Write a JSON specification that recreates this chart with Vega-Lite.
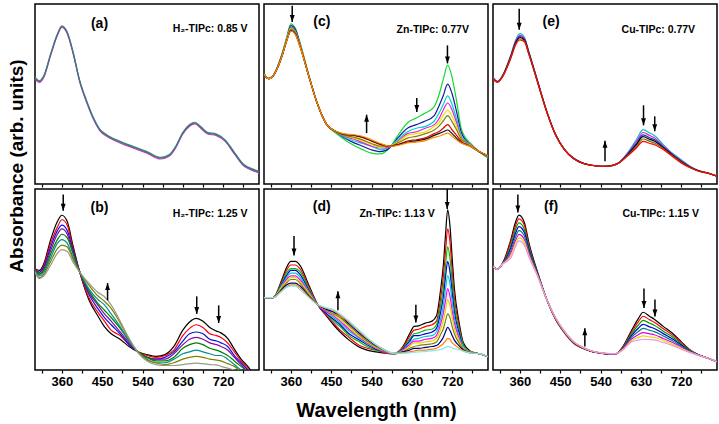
{
"$schema":"https://vega.github.io/schema/vega-lite/v6.json",
"padding":{"left":6,"top":3,"right":2,"bottom":1},
"background":"#ffffff",
"columns":3,
"bounds":"flush",
"spacing":{"row":5,"column":5},
"resolve":{"scale":{"color":"independent"}},
"config":{
"font":"Liberation Sans",
"view":{"stroke":"#000000","strokeWidth":1.5},
"axis":{"domain":false,"grid":false,"tickColor":"#000000","tickSize":3,"tickWidth":1.2,"labelColor":"#000000","labelFont":"Liberation Sans","labelFontSize":13,"labelFontWeight":"bold","labelPadding":2,"titleColor":"#000000","titleFont":"Liberation Sans","titleFontSize":20,"titleFontWeight":"bold"},
"text":{"font":"Liberation Sans","fontWeight":"bold","color":"#000000"},
"line":{"strokeWidth":1.2,"interpolate":"monotone"}
},
"datasets":{
"a":[
{"s":1,"w":300,"a":0.585},{"s":1,"w":310,"a":0.565},{"s":1,"w":320,"a":0.595},{"s":1,"w":335,"a":0.715},{"s":1,"w":350,"a":0.825},{"s":1,"w":360,"a":0.87},{"s":1,"w":372,"a":0.835},{"s":1,"w":385,"a":0.725},{"s":1,"w":400,"a":0.565},{"s":1,"w":415,"a":0.455},{"s":1,"w":430,"a":0.362},{"s":1,"w":445,"a":0.295},{"s":1,"w":460,"a":0.265},{"s":1,"w":490,"a":0.228},{"s":1,"w":520,"a":0.199},{"s":1,"w":550,"a":0.171},{"s":1,"w":580,"a":0.139},{"s":1,"w":600,"a":0.155},{"s":1,"w":615,"a":0.205},{"s":1,"w":630,"a":0.278},{"s":1,"w":645,"a":0.321},{"s":1,"w":657,"a":0.334},{"s":1,"w":670,"a":0.31},{"s":1,"w":685,"a":0.278},{"s":1,"w":705,"a":0.269},{"s":1,"w":725,"a":0.235},{"s":1,"w":745,"a":0.167},{"s":1,"w":765,"a":0.102},{"s":1,"w":785,"a":0.075},{"s":1,"w":800,"a":0.062},
{"s":2,"w":300,"a":0.594},{"s":2,"w":310,"a":0.574},{"s":2,"w":320,"a":0.604},{"s":2,"w":335,"a":0.724},{"s":2,"w":350,"a":0.834},{"s":2,"w":360,"a":0.879},{"s":2,"w":372,"a":0.844},{"s":2,"w":385,"a":0.734},{"s":2,"w":400,"a":0.574},{"s":2,"w":415,"a":0.464},{"s":2,"w":430,"a":0.371},{"s":2,"w":445,"a":0.304},{"s":2,"w":460,"a":0.274},{"s":2,"w":490,"a":0.237},{"s":2,"w":520,"a":0.208},{"s":2,"w":550,"a":0.18},{"s":2,"w":580,"a":0.148},{"s":2,"w":600,"a":0.164},{"s":2,"w":615,"a":0.214},{"s":2,"w":630,"a":0.287},{"s":2,"w":645,"a":0.33},{"s":2,"w":657,"a":0.343},{"s":2,"w":670,"a":0.319},{"s":2,"w":685,"a":0.287},{"s":2,"w":705,"a":0.278},{"s":2,"w":725,"a":0.244},{"s":2,"w":745,"a":0.176},{"s":2,"w":765,"a":0.111},{"s":2,"w":785,"a":0.084},{"s":2,"w":800,"a":0.071},
{"s":3,"w":300,"a":0.59},{"s":3,"w":310,"a":0.57},{"s":3,"w":320,"a":0.6},{"s":3,"w":335,"a":0.72},{"s":3,"w":350,"a":0.83},{"s":3,"w":360,"a":0.875},{"s":3,"w":372,"a":0.84},{"s":3,"w":385,"a":0.73},{"s":3,"w":400,"a":0.57},{"s":3,"w":415,"a":0.46},{"s":3,"w":430,"a":0.367},{"s":3,"w":445,"a":0.3},{"s":3,"w":460,"a":0.27},{"s":3,"w":490,"a":0.233},{"s":3,"w":520,"a":0.204},{"s":3,"w":550,"a":0.176},{"s":3,"w":580,"a":0.144},{"s":3,"w":600,"a":0.16},{"s":3,"w":615,"a":0.21},{"s":3,"w":630,"a":0.283},{"s":3,"w":645,"a":0.326},{"s":3,"w":657,"a":0.339},{"s":3,"w":670,"a":0.315},{"s":3,"w":685,"a":0.283},{"s":3,"w":705,"a":0.274},{"s":3,"w":725,"a":0.24},{"s":3,"w":745,"a":0.172},{"s":3,"w":765,"a":0.107},{"s":3,"w":785,"a":0.08},{"s":3,"w":800,"a":0.067}
],
"b":[
{"s":1,"w":300,"a":0.56},{"s":1,"w":310,"a":0.55},{"s":1,"w":320,"a":0.59},{"s":1,"w":335,"a":0.72},{"s":1,"w":350,"a":0.82},{"s":1,"w":360,"a":0.855},{"s":1,"w":372,"a":0.82},{"s":1,"w":385,"a":0.685},{"s":1,"w":400,"a":0.54},{"s":1,"w":420,"a":0.39},{"s":1,"w":440,"a":0.3},{"s":1,"w":455,"a":0.24},{"s":1,"w":470,"a":0.2},{"s":1,"w":490,"a":0.17},{"s":1,"w":510,"a":0.13},{"s":1,"w":530,"a":0.1},{"s":1,"w":550,"a":0.085},{"s":1,"w":570,"a":0.075},{"s":1,"w":590,"a":0.085},{"s":1,"w":610,"a":0.13},{"s":1,"w":630,"a":0.22},{"s":1,"w":645,"a":0.265},{"s":1,"w":660,"a":0.285},{"s":1,"w":675,"a":0.27},{"s":1,"w":690,"a":0.235},{"s":1,"w":705,"a":0.215},{"s":1,"w":715,"a":0.205},{"s":1,"w":730,"a":0.175},{"s":1,"w":745,"a":0.115},{"s":1,"w":760,"a":0.06},{"s":1,"w":775,"a":0.02},{"s":1,"w":790,"a":-0.03},{"s":1,"w":800,"a":-0.05},
{"s":2,"w":300,"a":0.56},{"s":2,"w":310,"a":0.54},{"s":2,"w":320,"a":0.58},{"s":2,"w":335,"a":0.7},{"s":2,"w":350,"a":0.79},{"s":2,"w":360,"a":0.83},{"s":2,"w":372,"a":0.8},{"s":2,"w":385,"a":0.67},{"s":2,"w":400,"a":0.54},{"s":2,"w":420,"a":0.4},{"s":2,"w":440,"a":0.32},{"s":2,"w":455,"a":0.27},{"s":2,"w":470,"a":0.22},{"s":2,"w":490,"a":0.19},{"s":2,"w":510,"a":0.14},{"s":2,"w":530,"a":0.1},{"s":2,"w":550,"a":0.08},{"s":2,"w":570,"a":0.07},{"s":2,"w":590,"a":0.08},{"s":2,"w":610,"a":0.11},{"s":2,"w":630,"a":0.19},{"s":2,"w":645,"a":0.23},{"s":2,"w":660,"a":0.25},{"s":2,"w":675,"a":0.235},{"s":2,"w":690,"a":0.2},{"s":2,"w":705,"a":0.19},{"s":2,"w":715,"a":0.18},{"s":2,"w":730,"a":0.15},{"s":2,"w":745,"a":0.1},{"s":2,"w":760,"a":0.05},{"s":2,"w":775,"a":0.01},{"s":2,"w":790,"a":-0.03},{"s":2,"w":800,"a":-0.05},
{"s":3,"w":300,"a":0.55},{"s":3,"w":310,"a":0.54},{"s":3,"w":320,"a":0.57},{"s":3,"w":335,"a":0.68},{"s":3,"w":350,"a":0.77},{"s":3,"w":360,"a":0.8},{"s":3,"w":372,"a":0.77},{"s":3,"w":385,"a":0.66},{"s":3,"w":400,"a":0.54},{"s":3,"w":420,"a":0.42},{"s":3,"w":440,"a":0.34},{"s":3,"w":455,"a":0.29},{"s":3,"w":470,"a":0.25},{"s":3,"w":490,"a":0.2},{"s":3,"w":510,"a":0.14},{"s":3,"w":530,"a":0.1},{"s":3,"w":550,"a":0.07},{"s":3,"w":570,"a":0.06},{"s":3,"w":590,"a":0.07},{"s":3,"w":610,"a":0.1},{"s":3,"w":630,"a":0.16},{"s":3,"w":645,"a":0.2},{"s":3,"w":660,"a":0.21},{"s":3,"w":675,"a":0.2},{"s":3,"w":690,"a":0.17},{"s":3,"w":705,"a":0.16},{"s":3,"w":715,"a":0.15},{"s":3,"w":730,"a":0.13},{"s":3,"w":745,"a":0.08},{"s":3,"w":760,"a":0.04},{"s":3,"w":775,"a":0},{"s":3,"w":790,"a":-0.04},{"s":3,"w":800,"a":-0.05},
{"s":4,"w":300,"a":0.55},{"s":4,"w":310,"a":0.53},{"s":4,"w":320,"a":0.56},{"s":4,"w":335,"a":0.66},{"s":4,"w":350,"a":0.75},{"s":4,"w":360,"a":0.78},{"s":4,"w":372,"a":0.75},{"s":4,"w":385,"a":0.65},{"s":4,"w":400,"a":0.54},{"s":4,"w":420,"a":0.43},{"s":4,"w":440,"a":0.36},{"s":4,"w":455,"a":0.31},{"s":4,"w":470,"a":0.27},{"s":4,"w":490,"a":0.21},{"s":4,"w":510,"a":0.15},{"s":4,"w":530,"a":0.1},{"s":4,"w":550,"a":0.07},{"s":4,"w":570,"a":0.06},{"s":4,"w":590,"a":0.06},{"s":4,"w":610,"a":0.09},{"s":4,"w":630,"a":0.14},{"s":4,"w":645,"a":0.17},{"s":4,"w":660,"a":0.18},{"s":4,"w":675,"a":0.17},{"s":4,"w":690,"a":0.15},{"s":4,"w":705,"a":0.14},{"s":4,"w":715,"a":0.13},{"s":4,"w":730,"a":0.11},{"s":4,"w":745,"a":0.07},{"s":4,"w":760,"a":0.03},{"s":4,"w":775,"a":-0.01},{"s":4,"w":790,"a":-0.04},{"s":4,"w":800,"a":-0.05},
{"s":5,"w":300,"a":0.55},{"s":5,"w":310,"a":0.53},{"s":5,"w":320,"a":0.55},{"s":5,"w":335,"a":0.64},{"s":5,"w":350,"a":0.72},{"s":5,"w":360,"a":0.75},{"s":5,"w":372,"a":0.73},{"s":5,"w":385,"a":0.64},{"s":5,"w":400,"a":0.54},{"s":5,"w":420,"a":0.44},{"s":5,"w":440,"a":0.37},{"s":5,"w":455,"a":0.33},{"s":5,"w":470,"a":0.29},{"s":5,"w":490,"a":0.23},{"s":5,"w":510,"a":0.16},{"s":5,"w":530,"a":0.1},{"s":5,"w":550,"a":0.07},{"s":5,"w":570,"a":0.05},{"s":5,"w":590,"a":0.05},{"s":5,"w":610,"a":0.07},{"s":5,"w":630,"a":0.12},{"s":5,"w":645,"a":0.14},{"s":5,"w":660,"a":0.15},{"s":5,"w":675,"a":0.14},{"s":5,"w":690,"a":0.12},{"s":5,"w":705,"a":0.11},{"s":5,"w":715,"a":0.1},{"s":5,"w":730,"a":0.08},{"s":5,"w":745,"a":0.05},{"s":5,"w":760,"a":0.02},{"s":5,"w":775,"a":-0.01},{"s":5,"w":790,"a":-0.04},{"s":5,"w":800,"a":-0.05},
{"s":6,"w":300,"a":0.55},{"s":6,"w":310,"a":0.52},{"s":6,"w":320,"a":0.54},{"s":6,"w":335,"a":0.62},{"s":6,"w":350,"a":0.7},{"s":6,"w":360,"a":0.72},{"s":6,"w":372,"a":0.7},{"s":6,"w":385,"a":0.62},{"s":6,"w":400,"a":0.54},{"s":6,"w":420,"a":0.45},{"s":6,"w":440,"a":0.39},{"s":6,"w":455,"a":0.36},{"s":6,"w":470,"a":0.31},{"s":6,"w":490,"a":0.24},{"s":6,"w":510,"a":0.16},{"s":6,"w":530,"a":0.1},{"s":6,"w":550,"a":0.06},{"s":6,"w":570,"a":0.04},{"s":6,"w":590,"a":0.04},{"s":6,"w":610,"a":0.06},{"s":6,"w":630,"a":0.09},{"s":6,"w":645,"a":0.1},{"s":6,"w":660,"a":0.11},{"s":6,"w":675,"a":0.1},{"s":6,"w":690,"a":0.09},{"s":6,"w":705,"a":0.08},{"s":6,"w":715,"a":0.08},{"s":6,"w":730,"a":0.06},{"s":6,"w":745,"a":0.03},{"s":6,"w":760,"a":0},{"s":6,"w":775,"a":-0.02},{"s":6,"w":790,"a":-0.04},{"s":6,"w":800,"a":-0.05},
{"s":7,"w":300,"a":0.54},{"s":7,"w":310,"a":0.51},{"s":7,"w":320,"a":0.53},{"s":7,"w":335,"a":0.6},{"s":7,"w":350,"a":0.67},{"s":7,"w":360,"a":0.69},{"s":7,"w":372,"a":0.68},{"s":7,"w":385,"a":0.61},{"s":7,"w":400,"a":0.54},{"s":7,"w":420,"a":0.47},{"s":7,"w":440,"a":0.41},{"s":7,"w":455,"a":0.38},{"s":7,"w":470,"a":0.34},{"s":7,"w":490,"a":0.26},{"s":7,"w":510,"a":0.17},{"s":7,"w":530,"a":0.1},{"s":7,"w":550,"a":0.055},{"s":7,"w":570,"a":0.04},{"s":7,"w":590,"a":0.03},{"s":7,"w":610,"a":0.04},{"s":7,"w":630,"a":0.06},{"s":7,"w":645,"a":0.07},{"s":7,"w":660,"a":0.075},{"s":7,"w":675,"a":0.07},{"s":7,"w":690,"a":0.06},{"s":7,"w":705,"a":0.055},{"s":7,"w":715,"a":0.05},{"s":7,"w":730,"a":0.035},{"s":7,"w":745,"a":0.02},{"s":7,"w":760,"a":-0.01},{"s":7,"w":775,"a":-0.03},{"s":7,"w":790,"a":-0.05},{"s":7,"w":800,"a":-0.05},
{"s":8,"w":300,"a":0.54},{"s":8,"w":310,"a":0.505},{"s":8,"w":320,"a":0.52},{"s":8,"w":335,"a":0.58},{"s":8,"w":350,"a":0.645},{"s":8,"w":360,"a":0.665},{"s":8,"w":372,"a":0.655},{"s":8,"w":385,"a":0.595},{"s":8,"w":400,"a":0.54},{"s":8,"w":420,"a":0.48},{"s":8,"w":440,"a":0.43},{"s":8,"w":455,"a":0.405},{"s":8,"w":470,"a":0.36},{"s":8,"w":490,"a":0.27},{"s":8,"w":510,"a":0.175},{"s":8,"w":530,"a":0.095},{"s":8,"w":550,"a":0.05},{"s":8,"w":570,"a":0.03},{"s":8,"w":590,"a":0.025},{"s":8,"w":610,"a":0.025},{"s":8,"w":630,"a":0.03},{"s":8,"w":645,"a":0.035},{"s":8,"w":660,"a":0.038},{"s":8,"w":675,"a":0.035},{"s":8,"w":690,"a":0.03},{"s":8,"w":705,"a":0.028},{"s":8,"w":715,"a":0.02},{"s":8,"w":730,"a":0.01},{"s":8,"w":745,"a":0},{"s":8,"w":760,"a":-0.02},{"s":8,"w":775,"a":-0.04},{"s":8,"w":790,"a":-0.05},{"s":8,"w":800,"a":-0.05}
],
"c":[
{"s":1,"w":300,"a":0.61},{"s":1,"w":310,"a":0.585},{"s":1,"w":320,"a":0.6},{"s":1,"w":340,"a":0.72},{"s":1,"w":350,"a":0.81},{"s":1,"w":360,"a":0.89},{"s":1,"w":370,"a":0.865},{"s":1,"w":380,"a":0.79},{"s":1,"w":400,"a":0.605},{"s":1,"w":420,"a":0.44},{"s":1,"w":440,"a":0.33},{"s":1,"w":460,"a":0.283},{"s":1,"w":480,"a":0.246},{"s":1,"w":500,"a":0.215},{"s":1,"w":520,"a":0.191},{"s":1,"w":540,"a":0.172},{"s":1,"w":560,"a":0.167},{"s":1,"w":580,"a":0.2},{"s":1,"w":600,"a":0.274},{"s":1,"w":620,"a":0.339},{"s":1,"w":640,"a":0.367},{"s":1,"w":660,"a":0.394},{"s":1,"w":680,"a":0.43},{"s":1,"w":690,"a":0.49},{"s":1,"w":700,"a":0.58},{"s":1,"w":710,"a":0.66},{"s":1,"w":720,"a":0.59},{"s":1,"w":730,"a":0.459},{"s":1,"w":740,"a":0.31},{"s":1,"w":750,"a":0.256},{"s":1,"w":760,"a":0.228},{"s":1,"w":780,"a":0.181},{"s":1,"w":800,"a":0.144},
{"s":2,"w":300,"a":0.61},{"s":2,"w":310,"a":0.585},{"s":2,"w":320,"a":0.6},{"s":2,"w":340,"a":0.72},{"s":2,"w":350,"a":0.8},{"s":2,"w":360,"a":0.88},{"s":2,"w":370,"a":0.86},{"s":2,"w":380,"a":0.78},{"s":2,"w":400,"a":0.6},{"s":2,"w":420,"a":0.44},{"s":2,"w":440,"a":0.33},{"s":2,"w":460,"a":0.29},{"s":2,"w":480,"a":0.255},{"s":2,"w":500,"a":0.23},{"s":2,"w":520,"a":0.21},{"s":2,"w":540,"a":0.19},{"s":2,"w":560,"a":0.18},{"s":2,"w":580,"a":0.2},{"s":2,"w":600,"a":0.26},{"s":2,"w":620,"a":0.31},{"s":2,"w":640,"a":0.33},{"s":2,"w":660,"a":0.35},{"s":2,"w":680,"a":0.38},{"s":2,"w":690,"a":0.43},{"s":2,"w":700,"a":0.49},{"s":2,"w":710,"a":0.555},{"s":2,"w":720,"a":0.5},{"s":2,"w":730,"a":0.4},{"s":2,"w":740,"a":0.29},{"s":2,"w":750,"a":0.245},{"s":2,"w":760,"a":0.22},{"s":2,"w":780,"a":0.18},{"s":2,"w":800,"a":0.15},
{"s":3,"w":300,"a":0.61},{"s":3,"w":310,"a":0.585},{"s":3,"w":320,"a":0.6},{"s":3,"w":340,"a":0.715},{"s":3,"w":350,"a":0.8},{"s":3,"w":360,"a":0.87},{"s":3,"w":370,"a":0.85},{"s":3,"w":380,"a":0.78},{"s":3,"w":400,"a":0.6},{"s":3,"w":420,"a":0.44},{"s":3,"w":440,"a":0.33},{"s":3,"w":460,"a":0.29},{"s":3,"w":480,"a":0.26},{"s":3,"w":500,"a":0.24},{"s":3,"w":520,"a":0.225},{"s":3,"w":540,"a":0.21},{"s":3,"w":560,"a":0.19},{"s":3,"w":580,"a":0.205},{"s":3,"w":600,"a":0.25},{"s":3,"w":620,"a":0.29},{"s":3,"w":640,"a":0.31},{"s":3,"w":660,"a":0.32},{"s":3,"w":680,"a":0.35},{"s":3,"w":690,"a":0.39},{"s":3,"w":700,"a":0.44},{"s":3,"w":710,"a":0.49},{"s":3,"w":720,"a":0.44},{"s":3,"w":730,"a":0.36},{"s":3,"w":740,"a":0.27},{"s":3,"w":750,"a":0.24},{"s":3,"w":760,"a":0.22},{"s":3,"w":780,"a":0.18},{"s":3,"w":800,"a":0.15},
{"s":4,"w":300,"a":0.61},{"s":4,"w":310,"a":0.585},{"s":4,"w":320,"a":0.6},{"s":4,"w":340,"a":0.71},{"s":4,"w":350,"a":0.8},{"s":4,"w":360,"a":0.87},{"s":4,"w":370,"a":0.845},{"s":4,"w":380,"a":0.78},{"s":4,"w":400,"a":0.6},{"s":4,"w":420,"a":0.44},{"s":4,"w":440,"a":0.33},{"s":4,"w":460,"a":0.29},{"s":4,"w":480,"a":0.265},{"s":4,"w":500,"a":0.25},{"s":4,"w":520,"a":0.23},{"s":4,"w":540,"a":0.21},{"s":4,"w":560,"a":0.2},{"s":4,"w":580,"a":0.205},{"s":4,"w":600,"a":0.24},{"s":4,"w":620,"a":0.28},{"s":4,"w":640,"a":0.29},{"s":4,"w":660,"a":0.31},{"s":4,"w":680,"a":0.33},{"s":4,"w":690,"a":0.36},{"s":4,"w":700,"a":0.41},{"s":4,"w":710,"a":0.45},{"s":4,"w":720,"a":0.41},{"s":4,"w":730,"a":0.34},{"s":4,"w":740,"a":0.26},{"s":4,"w":750,"a":0.235},{"s":4,"w":760,"a":0.22},{"s":4,"w":780,"a":0.18},{"s":4,"w":800,"a":0.15},
{"s":5,"w":300,"a":0.61},{"s":5,"w":310,"a":0.585},{"s":5,"w":320,"a":0.6},{"s":5,"w":340,"a":0.71},{"s":5,"w":350,"a":0.8},{"s":5,"w":360,"a":0.865},{"s":5,"w":370,"a":0.84},{"s":5,"w":380,"a":0.775},{"s":5,"w":400,"a":0.6},{"s":5,"w":420,"a":0.44},{"s":5,"w":440,"a":0.33},{"s":5,"w":460,"a":0.29},{"s":5,"w":480,"a":0.27},{"s":5,"w":500,"a":0.255},{"s":5,"w":520,"a":0.24},{"s":5,"w":540,"a":0.22},{"s":5,"w":560,"a":0.205},{"s":5,"w":580,"a":0.21},{"s":5,"w":600,"a":0.235},{"s":5,"w":620,"a":0.27},{"s":5,"w":640,"a":0.28},{"s":5,"w":660,"a":0.29},{"s":5,"w":680,"a":0.32},{"s":5,"w":690,"a":0.34},{"s":5,"w":700,"a":0.38},{"s":5,"w":710,"a":0.41},{"s":5,"w":720,"a":0.375},{"s":5,"w":730,"a":0.32},{"s":5,"w":740,"a":0.255},{"s":5,"w":750,"a":0.23},{"s":5,"w":760,"a":0.215},{"s":5,"w":780,"a":0.18},{"s":5,"w":800,"a":0.155},
{"s":6,"w":300,"a":0.61},{"s":6,"w":310,"a":0.585},{"s":6,"w":320,"a":0.6},{"s":6,"w":340,"a":0.71},{"s":6,"w":350,"a":0.795},{"s":6,"w":360,"a":0.86},{"s":6,"w":370,"a":0.84},{"s":6,"w":380,"a":0.77},{"s":6,"w":400,"a":0.6},{"s":6,"w":420,"a":0.44},{"s":6,"w":440,"a":0.33},{"s":6,"w":460,"a":0.29},{"s":6,"w":480,"a":0.27},{"s":6,"w":500,"a":0.26},{"s":6,"w":520,"a":0.245},{"s":6,"w":540,"a":0.225},{"s":6,"w":560,"a":0.21},{"s":6,"w":580,"a":0.21},{"s":6,"w":600,"a":0.23},{"s":6,"w":620,"a":0.255},{"s":6,"w":640,"a":0.265},{"s":6,"w":660,"a":0.28},{"s":6,"w":680,"a":0.3},{"s":6,"w":690,"a":0.32},{"s":6,"w":700,"a":0.35},{"s":6,"w":710,"a":0.38},{"s":6,"w":720,"a":0.345},{"s":6,"w":730,"a":0.3},{"s":6,"w":740,"a":0.25},{"s":6,"w":750,"a":0.23},{"s":6,"w":760,"a":0.21},{"s":6,"w":780,"a":0.18},{"s":6,"w":800,"a":0.155},
{"s":7,"w":300,"a":0.61},{"s":7,"w":310,"a":0.585},{"s":7,"w":320,"a":0.6},{"s":7,"w":340,"a":0.71},{"s":7,"w":350,"a":0.79},{"s":7,"w":360,"a":0.85},{"s":7,"w":370,"a":0.835},{"s":7,"w":380,"a":0.77},{"s":7,"w":400,"a":0.6},{"s":7,"w":420,"a":0.44},{"s":7,"w":440,"a":0.33},{"s":7,"w":460,"a":0.292},{"s":7,"w":480,"a":0.275},{"s":7,"w":500,"a":0.27},{"s":7,"w":520,"a":0.258},{"s":7,"w":540,"a":0.238},{"s":7,"w":560,"a":0.219},{"s":7,"w":580,"a":0.209},{"s":7,"w":600,"a":0.221},{"s":7,"w":620,"a":0.239},{"s":7,"w":640,"a":0.246},{"s":7,"w":660,"a":0.256},{"s":7,"w":680,"a":0.28},{"s":7,"w":690,"a":0.29},{"s":7,"w":700,"a":0.31},{"s":7,"w":710,"a":0.33},{"s":7,"w":720,"a":0.3},{"s":7,"w":730,"a":0.27},{"s":7,"w":740,"a":0.24},{"s":7,"w":750,"a":0.22},{"s":7,"w":760,"a":0.211},{"s":7,"w":780,"a":0.18},{"s":7,"w":800,"a":0.158},
{"s":8,"w":300,"a":0.61},{"s":8,"w":310,"a":0.585},{"s":8,"w":320,"a":0.6},{"s":8,"w":340,"a":0.71},{"s":8,"w":350,"a":0.79},{"s":8,"w":360,"a":0.852},{"s":8,"w":370,"a":0.832},{"s":8,"w":380,"a":0.766},{"s":8,"w":400,"a":0.6},{"s":8,"w":420,"a":0.44},{"s":8,"w":440,"a":0.33},{"s":8,"w":460,"a":0.293},{"s":8,"w":480,"a":0.276},{"s":8,"w":500,"a":0.271},{"s":8,"w":520,"a":0.261},{"s":8,"w":540,"a":0.241},{"s":8,"w":560,"a":0.222},{"s":8,"w":580,"a":0.21},{"s":8,"w":600,"a":0.218},{"s":8,"w":620,"a":0.233},{"s":8,"w":640,"a":0.24},{"s":8,"w":660,"a":0.249},{"s":8,"w":680,"a":0.27},{"s":8,"w":690,"a":0.28},{"s":8,"w":700,"a":0.29},{"s":8,"w":710,"a":0.3},{"s":8,"w":720,"a":0.28},{"s":8,"w":730,"a":0.255},{"s":8,"w":740,"a":0.23},{"s":8,"w":750,"a":0.22},{"s":8,"w":760,"a":0.21},{"s":8,"w":780,"a":0.18},{"s":8,"w":800,"a":0.158},
{"s":9,"w":300,"a":0.61},{"s":9,"w":310,"a":0.585},{"s":9,"w":320,"a":0.6},{"s":9,"w":340,"a":0.71},{"s":9,"w":350,"a":0.79},{"s":9,"w":360,"a":0.85},{"s":9,"w":370,"a":0.83},{"s":9,"w":380,"a":0.765},{"s":9,"w":400,"a":0.6},{"s":9,"w":420,"a":0.44},{"s":9,"w":440,"a":0.33},{"s":9,"w":460,"a":0.293},{"s":9,"w":480,"a":0.278},{"s":9,"w":500,"a":0.274},{"s":9,"w":520,"a":0.265},{"s":9,"w":540,"a":0.245},{"s":9,"w":560,"a":0.225},{"s":9,"w":580,"a":0.21},{"s":9,"w":600,"a":0.215},{"s":9,"w":620,"a":0.228},{"s":9,"w":640,"a":0.233},{"s":9,"w":660,"a":0.241},{"s":9,"w":680,"a":0.259},{"s":9,"w":690,"a":0.265},{"s":9,"w":700,"a":0.274},{"s":9,"w":710,"a":0.283},{"s":9,"w":720,"a":0.265},{"s":9,"w":730,"a":0.245},{"s":9,"w":740,"a":0.228},{"s":9,"w":750,"a":0.218},{"s":9,"w":760,"a":0.209},{"s":9,"w":780,"a":0.181},{"s":9,"w":800,"a":0.159}
],
"d":[
{"s":1,"w":300,"a":0.4},{"s":1,"w":320,"a":0.4},{"s":1,"w":340,"a":0.5},{"s":1,"w":350,"a":0.565},{"s":1,"w":360,"a":0.6},{"s":1,"w":370,"a":0.6},{"s":1,"w":380,"a":0.58},{"s":1,"w":400,"a":0.47},{"s":1,"w":420,"a":0.361},{"s":1,"w":440,"a":0.296},{"s":1,"w":455,"a":0.25},{"s":1,"w":470,"a":0.21},{"s":1,"w":490,"a":0.165},{"s":1,"w":510,"a":0.13},{"s":1,"w":530,"a":0.11},{"s":1,"w":550,"a":0.1},{"s":1,"w":570,"a":0.093},{"s":1,"w":590,"a":0.09},{"s":1,"w":610,"a":0.13},{"s":1,"w":625,"a":0.2},{"s":1,"w":635,"a":0.241},{"s":1,"w":645,"a":0.244},{"s":1,"w":660,"a":0.259},{"s":1,"w":675,"a":0.27},{"s":1,"w":685,"a":0.3},{"s":1,"w":695,"a":0.46},{"s":1,"w":700,"a":0.57},{"s":1,"w":705,"a":0.74},{"s":1,"w":710,"a":0.885},{"s":1,"w":715,"a":0.8},{"s":1,"w":720,"a":0.62},{"s":1,"w":725,"a":0.45},{"s":1,"w":735,"a":0.27},{"s":1,"w":745,"a":0.15},{"s":1,"w":760,"a":0.105},{"s":1,"w":780,"a":0.09},{"s":1,"w":800,"a":0.074},
{"s":2,"w":300,"a":0.4},{"s":2,"w":320,"a":0.4},{"s":2,"w":340,"a":0.49},{"s":2,"w":350,"a":0.55},{"s":2,"w":360,"a":0.58},{"s":2,"w":370,"a":0.58},{"s":2,"w":380,"a":0.56},{"s":2,"w":400,"a":0.46},{"s":2,"w":420,"a":0.36},{"s":2,"w":440,"a":0.3},{"s":2,"w":455,"a":0.26},{"s":2,"w":470,"a":0.22},{"s":2,"w":490,"a":0.18},{"s":2,"w":510,"a":0.14},{"s":2,"w":530,"a":0.12},{"s":2,"w":550,"a":0.11},{"s":2,"w":570,"a":0.095},{"s":2,"w":590,"a":0.09},{"s":2,"w":610,"a":0.125},{"s":2,"w":625,"a":0.185},{"s":2,"w":635,"a":0.22},{"s":2,"w":645,"a":0.225},{"s":2,"w":660,"a":0.24},{"s":2,"w":675,"a":0.25},{"s":2,"w":685,"a":0.27},{"s":2,"w":695,"a":0.41},{"s":2,"w":700,"a":0.51},{"s":2,"w":705,"a":0.65},{"s":2,"w":710,"a":0.78},{"s":2,"w":715,"a":0.71},{"s":2,"w":720,"a":0.55},{"s":2,"w":725,"a":0.4},{"s":2,"w":735,"a":0.25},{"s":2,"w":745,"a":0.14},{"s":2,"w":760,"a":0.1},{"s":2,"w":780,"a":0.09},{"s":2,"w":800,"a":0.074},
{"s":3,"w":300,"a":0.4},{"s":3,"w":320,"a":0.4},{"s":3,"w":340,"a":0.48},{"s":3,"w":350,"a":0.535},{"s":3,"w":360,"a":0.56},{"s":3,"w":370,"a":0.56},{"s":3,"w":380,"a":0.545},{"s":3,"w":400,"a":0.45},{"s":3,"w":420,"a":0.36},{"s":3,"w":440,"a":0.31},{"s":3,"w":455,"a":0.27},{"s":3,"w":470,"a":0.24},{"s":3,"w":490,"a":0.19},{"s":3,"w":510,"a":0.16},{"s":3,"w":530,"a":0.13},{"s":3,"w":550,"a":0.11},{"s":3,"w":570,"a":0.1},{"s":3,"w":590,"a":0.09},{"s":3,"w":610,"a":0.12},{"s":3,"w":625,"a":0.17},{"s":3,"w":635,"a":0.2},{"s":3,"w":645,"a":0.205},{"s":3,"w":660,"a":0.22},{"s":3,"w":675,"a":0.225},{"s":3,"w":685,"a":0.25},{"s":3,"w":695,"a":0.37},{"s":3,"w":700,"a":0.45},{"s":3,"w":705,"a":0.57},{"s":3,"w":710,"a":0.68},{"s":3,"w":715,"a":0.62},{"s":3,"w":720,"a":0.49},{"s":3,"w":725,"a":0.36},{"s":3,"w":735,"a":0.23},{"s":3,"w":745,"a":0.14},{"s":3,"w":760,"a":0.1},{"s":3,"w":780,"a":0.09},{"s":3,"w":800,"a":0.074},
{"s":4,"w":300,"a":0.4},{"s":4,"w":320,"a":0.4},{"s":4,"w":340,"a":0.475},{"s":4,"w":350,"a":0.52},{"s":4,"w":360,"a":0.55},{"s":4,"w":370,"a":0.55},{"s":4,"w":380,"a":0.53},{"s":4,"w":400,"a":0.44},{"s":4,"w":420,"a":0.36},{"s":4,"w":440,"a":0.31},{"s":4,"w":455,"a":0.28},{"s":4,"w":470,"a":0.25},{"s":4,"w":490,"a":0.2},{"s":4,"w":510,"a":0.17},{"s":4,"w":530,"a":0.14},{"s":4,"w":550,"a":0.115},{"s":4,"w":570,"a":0.1},{"s":4,"w":590,"a":0.09},{"s":4,"w":610,"a":0.115},{"s":4,"w":625,"a":0.16},{"s":4,"w":635,"a":0.19},{"s":4,"w":645,"a":0.19},{"s":4,"w":660,"a":0.2},{"s":4,"w":675,"a":0.21},{"s":4,"w":685,"a":0.23},{"s":4,"w":695,"a":0.33},{"s":4,"w":700,"a":0.4},{"s":4,"w":705,"a":0.51},{"s":4,"w":710,"a":0.6},{"s":4,"w":715,"a":0.545},{"s":4,"w":720,"a":0.43},{"s":4,"w":725,"a":0.32},{"s":4,"w":735,"a":0.21},{"s":4,"w":745,"a":0.13},{"s":4,"w":760,"a":0.1},{"s":4,"w":780,"a":0.09},{"s":4,"w":800,"a":0.074},
{"s":5,"w":300,"a":0.4},{"s":5,"w":320,"a":0.4},{"s":5,"w":340,"a":0.47},{"s":5,"w":350,"a":0.51},{"s":5,"w":360,"a":0.535},{"s":5,"w":370,"a":0.535},{"s":5,"w":380,"a":0.515},{"s":5,"w":400,"a":0.435},{"s":5,"w":420,"a":0.36},{"s":5,"w":440,"a":0.32},{"s":5,"w":455,"a":0.29},{"s":5,"w":470,"a":0.26},{"s":5,"w":490,"a":0.215},{"s":5,"w":510,"a":0.18},{"s":5,"w":530,"a":0.145},{"s":5,"w":550,"a":0.12},{"s":5,"w":570,"a":0.1},{"s":5,"w":590,"a":0.09},{"s":5,"w":610,"a":0.11},{"s":5,"w":625,"a":0.15},{"s":5,"w":635,"a":0.17},{"s":5,"w":645,"a":0.175},{"s":5,"w":660,"a":0.185},{"s":5,"w":675,"a":0.19},{"s":5,"w":685,"a":0.21},{"s":5,"w":695,"a":0.29},{"s":5,"w":700,"a":0.35},{"s":5,"w":705,"a":0.445},{"s":5,"w":710,"a":0.52},{"s":5,"w":715,"a":0.48},{"s":5,"w":720,"a":0.38},{"s":5,"w":725,"a":0.29},{"s":5,"w":735,"a":0.19},{"s":5,"w":745,"a":0.13},{"s":5,"w":760,"a":0.1},{"s":5,"w":780,"a":0.09},{"s":5,"w":800,"a":0.074},
{"s":6,"w":300,"a":0.4},{"s":6,"w":320,"a":0.4},{"s":6,"w":340,"a":0.46},{"s":6,"w":350,"a":0.5},{"s":6,"w":360,"a":0.52},{"s":6,"w":370,"a":0.52},{"s":6,"w":380,"a":0.5},{"s":6,"w":400,"a":0.43},{"s":6,"w":420,"a":0.36},{"s":6,"w":440,"a":0.32},{"s":6,"w":455,"a":0.3},{"s":6,"w":470,"a":0.27},{"s":6,"w":490,"a":0.225},{"s":6,"w":510,"a":0.185},{"s":6,"w":530,"a":0.15},{"s":6,"w":550,"a":0.12},{"s":6,"w":570,"a":0.1},{"s":6,"w":590,"a":0.09},{"s":6,"w":610,"a":0.11},{"s":6,"w":625,"a":0.14},{"s":6,"w":635,"a":0.16},{"s":6,"w":645,"a":0.16},{"s":6,"w":660,"a":0.17},{"s":6,"w":675,"a":0.175},{"s":6,"w":685,"a":0.19},{"s":6,"w":695,"a":0.26},{"s":6,"w":700,"a":0.31},{"s":6,"w":705,"a":0.38},{"s":6,"w":710,"a":0.45},{"s":6,"w":715,"a":0.41},{"s":6,"w":720,"a":0.33},{"s":6,"w":725,"a":0.26},{"s":6,"w":735,"a":0.18},{"s":6,"w":745,"a":0.12},{"s":6,"w":760,"a":0.1},{"s":6,"w":780,"a":0.09},{"s":6,"w":800,"a":0.074},
{"s":7,"w":300,"a":0.4},{"s":7,"w":320,"a":0.4},{"s":7,"w":340,"a":0.46},{"s":7,"w":350,"a":0.49},{"s":7,"w":360,"a":0.51},{"s":7,"w":370,"a":0.51},{"s":7,"w":380,"a":0.49},{"s":7,"w":400,"a":0.425},{"s":7,"w":420,"a":0.36},{"s":7,"w":440,"a":0.33},{"s":7,"w":455,"a":0.305},{"s":7,"w":470,"a":0.28},{"s":7,"w":490,"a":0.235},{"s":7,"w":510,"a":0.19},{"s":7,"w":530,"a":0.155},{"s":7,"w":550,"a":0.125},{"s":7,"w":570,"a":0.105},{"s":7,"w":590,"a":0.09},{"s":7,"w":610,"a":0.105},{"s":7,"w":625,"a":0.13},{"s":7,"w":635,"a":0.15},{"s":7,"w":645,"a":0.15},{"s":7,"w":660,"a":0.155},{"s":7,"w":675,"a":0.16},{"s":7,"w":685,"a":0.175},{"s":7,"w":695,"a":0.23},{"s":7,"w":700,"a":0.27},{"s":7,"w":705,"a":0.33},{"s":7,"w":710,"a":0.39},{"s":7,"w":715,"a":0.355},{"s":7,"w":720,"a":0.29},{"s":7,"w":725,"a":0.23},{"s":7,"w":735,"a":0.165},{"s":7,"w":745,"a":0.12},{"s":7,"w":760,"a":0.1},{"s":7,"w":780,"a":0.09},{"s":7,"w":800,"a":0.074},
{"s":8,"w":300,"a":0.4},{"s":8,"w":320,"a":0.4},{"s":8,"w":340,"a":0.45},{"s":8,"w":350,"a":0.48},{"s":8,"w":360,"a":0.5},{"s":8,"w":370,"a":0.5},{"s":8,"w":380,"a":0.48},{"s":8,"w":400,"a":0.415},{"s":8,"w":420,"a":0.36},{"s":8,"w":440,"a":0.33},{"s":8,"w":455,"a":0.31},{"s":8,"w":470,"a":0.29},{"s":8,"w":490,"a":0.245},{"s":8,"w":510,"a":0.2},{"s":8,"w":530,"a":0.16},{"s":8,"w":550,"a":0.13},{"s":8,"w":570,"a":0.105},{"s":8,"w":590,"a":0.09},{"s":8,"w":610,"a":0.1},{"s":8,"w":625,"a":0.12},{"s":8,"w":635,"a":0.13},{"s":8,"w":645,"a":0.135},{"s":8,"w":660,"a":0.14},{"s":8,"w":675,"a":0.145},{"s":8,"w":685,"a":0.155},{"s":8,"w":695,"a":0.2},{"s":8,"w":700,"a":0.225},{"s":8,"w":705,"a":0.27},{"s":8,"w":710,"a":0.31},{"s":8,"w":715,"a":0.29},{"s":8,"w":720,"a":0.24},{"s":8,"w":725,"a":0.2},{"s":8,"w":735,"a":0.15},{"s":8,"w":745,"a":0.115},{"s":8,"w":760,"a":0.1},{"s":8,"w":780,"a":0.09},{"s":8,"w":800,"a":0.074},
{"s":9,"w":300,"a":0.4},{"s":9,"w":320,"a":0.4},{"s":9,"w":340,"a":0.445},{"s":9,"w":350,"a":0.47},{"s":9,"w":360,"a":0.48},{"s":9,"w":370,"a":0.48},{"s":9,"w":380,"a":0.465},{"s":9,"w":400,"a":0.41},{"s":9,"w":420,"a":0.36},{"s":9,"w":440,"a":0.335},{"s":9,"w":455,"a":0.32},{"s":9,"w":470,"a":0.3},{"s":9,"w":490,"a":0.255},{"s":9,"w":510,"a":0.21},{"s":9,"w":530,"a":0.17},{"s":9,"w":550,"a":0.135},{"s":9,"w":570,"a":0.11},{"s":9,"w":590,"a":0.09},{"s":9,"w":610,"a":0.1},{"s":9,"w":625,"a":0.11},{"s":9,"w":635,"a":0.12},{"s":9,"w":645,"a":0.12},{"s":9,"w":660,"a":0.125},{"s":9,"w":675,"a":0.13},{"s":9,"w":685,"a":0.135},{"s":9,"w":695,"a":0.16},{"s":9,"w":700,"a":0.18},{"s":9,"w":705,"a":0.21},{"s":9,"w":710,"a":0.235},{"s":9,"w":715,"a":0.22},{"s":9,"w":720,"a":0.19},{"s":9,"w":725,"a":0.165},{"s":9,"w":735,"a":0.135},{"s":9,"w":745,"a":0.11},{"s":9,"w":760,"a":0.095},{"s":9,"w":780,"a":0.09},{"s":9,"w":800,"a":0.074},
{"s":10,"w":300,"a":0.4},{"s":10,"w":320,"a":0.4},{"s":10,"w":340,"a":0.44},{"s":10,"w":350,"a":0.46},{"s":10,"w":360,"a":0.47},{"s":10,"w":370,"a":0.47},{"s":10,"w":380,"a":0.455},{"s":10,"w":400,"a":0.405},{"s":10,"w":420,"a":0.36},{"s":10,"w":440,"a":0.34},{"s":10,"w":455,"a":0.33},{"s":10,"w":470,"a":0.3},{"s":10,"w":490,"a":0.265},{"s":10,"w":510,"a":0.22},{"s":10,"w":530,"a":0.175},{"s":10,"w":550,"a":0.14},{"s":10,"w":570,"a":0.11},{"s":10,"w":590,"a":0.09},{"s":10,"w":610,"a":0.095},{"s":10,"w":625,"a":0.1},{"s":10,"w":635,"a":0.105},{"s":10,"w":645,"a":0.11},{"s":10,"w":660,"a":0.11},{"s":10,"w":675,"a":0.115},{"s":10,"w":685,"a":0.12},{"s":10,"w":695,"a":0.135},{"s":10,"w":700,"a":0.145},{"s":10,"w":705,"a":0.16},{"s":10,"w":710,"a":0.175},{"s":10,"w":715,"a":0.17},{"s":10,"w":720,"a":0.15},{"s":10,"w":725,"a":0.14},{"s":10,"w":735,"a":0.12},{"s":10,"w":745,"a":0.105},{"s":10,"w":760,"a":0.095},{"s":10,"w":780,"a":0.09},{"s":10,"w":800,"a":0.074},
{"s":11,"w":300,"a":0.4},{"s":11,"w":320,"a":0.4},{"s":11,"w":340,"a":0.435},{"s":11,"w":350,"a":0.455},{"s":11,"w":360,"a":0.463},{"s":11,"w":370,"a":0.463},{"s":11,"w":380,"a":0.445},{"s":11,"w":400,"a":0.4},{"s":11,"w":420,"a":0.361},{"s":11,"w":440,"a":0.343},{"s":11,"w":455,"a":0.333},{"s":11,"w":470,"a":0.31},{"s":11,"w":490,"a":0.27},{"s":11,"w":510,"a":0.225},{"s":11,"w":530,"a":0.18},{"s":11,"w":550,"a":0.14},{"s":11,"w":570,"a":0.11},{"s":11,"w":590,"a":0.093},{"s":11,"w":610,"a":0.093},{"s":11,"w":625,"a":0.095},{"s":11,"w":635,"a":0.098},{"s":11,"w":645,"a":0.1},{"s":11,"w":660,"a":0.102},{"s":11,"w":675,"a":0.106},{"s":11,"w":685,"a":0.109},{"s":11,"w":695,"a":0.113},{"s":11,"w":700,"a":0.118},{"s":11,"w":705,"a":0.125},{"s":11,"w":710,"a":0.13},{"s":11,"w":715,"a":0.128},{"s":11,"w":720,"a":0.122},{"s":11,"w":725,"a":0.118},{"s":11,"w":735,"a":0.112},{"s":11,"w":745,"a":0.104},{"s":11,"w":760,"a":0.095},{"s":11,"w":780,"a":0.09},{"s":11,"w":800,"a":0.074}
],
"e":[
{"s":1,"w":300,"a":0.593},{"s":1,"w":310,"a":0.57},{"s":1,"w":320,"a":0.598},{"s":1,"w":340,"a":0.719},{"s":1,"w":350,"a":0.796},{"s":1,"w":360,"a":0.835},{"s":1,"w":370,"a":0.815},{"s":1,"w":380,"a":0.737},{"s":1,"w":400,"a":0.57},{"s":1,"w":420,"a":0.404},{"s":1,"w":440,"a":0.274},{"s":1,"w":460,"a":0.191},{"s":1,"w":480,"a":0.144},{"s":1,"w":500,"a":0.117},{"s":1,"w":520,"a":0.104},{"s":1,"w":540,"a":0.098},{"s":1,"w":560,"a":0.102},{"s":1,"w":580,"a":0.117},{"s":1,"w":600,"a":0.172},{"s":1,"w":620,"a":0.246},{"s":1,"w":635,"a":0.302},{"s":1,"w":650,"a":0.283},{"s":1,"w":660,"a":0.27},{"s":1,"w":680,"a":0.219},{"s":1,"w":700,"a":0.172},{"s":1,"w":720,"a":0.135},{"s":1,"w":740,"a":0.098},{"s":1,"w":760,"a":0.074},{"s":1,"w":780,"a":0.061},{"s":1,"w":800,"a":0.043},
{"s":2,"w":300,"a":0.59},{"s":2,"w":310,"a":0.57},{"s":2,"w":320,"a":0.596},{"s":2,"w":340,"a":0.714},{"s":2,"w":350,"a":0.79},{"s":2,"w":360,"a":0.826},{"s":2,"w":370,"a":0.809},{"s":2,"w":380,"a":0.733},{"s":2,"w":400,"a":0.568},{"s":2,"w":420,"a":0.403},{"s":2,"w":440,"a":0.273},{"s":2,"w":460,"a":0.19},{"s":2,"w":480,"a":0.143},{"s":2,"w":500,"a":0.117},{"s":2,"w":520,"a":0.104},{"s":2,"w":540,"a":0.098},{"s":2,"w":560,"a":0.1},{"s":2,"w":580,"a":0.117},{"s":2,"w":600,"a":0.168},{"s":2,"w":620,"a":0.235},{"s":2,"w":635,"a":0.286},{"s":2,"w":650,"a":0.269},{"s":2,"w":660,"a":0.257},{"s":2,"w":680,"a":0.212},{"s":2,"w":700,"a":0.168},{"s":2,"w":720,"a":0.13},{"s":2,"w":740,"a":0.096},{"s":2,"w":760,"a":0.073},{"s":2,"w":780,"a":0.061},{"s":2,"w":800,"a":0.043},
{"s":3,"w":300,"a":0.589},{"s":3,"w":310,"a":0.568},{"s":3,"w":320,"a":0.594},{"s":3,"w":340,"a":0.71},{"s":3,"w":350,"a":0.784},{"s":3,"w":360,"a":0.819},{"s":3,"w":370,"a":0.804},{"s":3,"w":380,"a":0.729},{"s":3,"w":400,"a":0.566},{"s":3,"w":420,"a":0.402},{"s":3,"w":440,"a":0.272},{"s":3,"w":460,"a":0.19},{"s":3,"w":480,"a":0.142},{"s":3,"w":500,"a":0.116},{"s":3,"w":520,"a":0.104},{"s":3,"w":540,"a":0.098},{"s":3,"w":560,"a":0.1},{"s":3,"w":580,"a":0.116},{"s":3,"w":600,"a":0.164},{"s":3,"w":620,"a":0.225},{"s":3,"w":635,"a":0.273},{"s":3,"w":650,"a":0.257},{"s":3,"w":660,"a":0.247},{"s":3,"w":680,"a":0.206},{"s":3,"w":700,"a":0.164},{"s":3,"w":720,"a":0.127},{"s":3,"w":740,"a":0.094},{"s":3,"w":760,"a":0.072},{"s":3,"w":780,"a":0.061},{"s":3,"w":800,"a":0.043},
{"s":4,"w":300,"a":0.588},{"s":4,"w":310,"a":0.567},{"s":4,"w":320,"a":0.593},{"s":4,"w":340,"a":0.708},{"s":4,"w":350,"a":0.78},{"s":4,"w":360,"a":0.814},{"s":4,"w":370,"a":0.8},{"s":4,"w":380,"a":0.727},{"s":4,"w":400,"a":0.564},{"s":4,"w":420,"a":0.402},{"s":4,"w":440,"a":0.272},{"s":4,"w":460,"a":0.19},{"s":4,"w":480,"a":0.142},{"s":4,"w":500,"a":0.116},{"s":4,"w":520,"a":0.104},{"s":4,"w":540,"a":0.098},{"s":4,"w":560,"a":0.1},{"s":4,"w":580,"a":0.116},{"s":4,"w":600,"a":0.162},{"s":4,"w":620,"a":0.218},{"s":4,"w":635,"a":0.263},{"s":4,"w":650,"a":0.248},{"s":4,"w":660,"a":0.239},{"s":4,"w":680,"a":0.202},{"s":4,"w":700,"a":0.161},{"s":4,"w":720,"a":0.124},{"s":4,"w":740,"a":0.093},{"s":4,"w":760,"a":0.072},{"s":4,"w":780,"a":0.06},{"s":4,"w":800,"a":0.043},
{"s":5,"w":300,"a":0.587},{"s":5,"w":310,"a":0.566},{"s":5,"w":320,"a":0.592},{"s":5,"w":340,"a":0.704},{"s":5,"w":350,"a":0.775},{"s":5,"w":360,"a":0.807},{"s":5,"w":370,"a":0.795},{"s":5,"w":380,"a":0.723},{"s":5,"w":400,"a":0.562},{"s":5,"w":420,"a":0.401},{"s":5,"w":440,"a":0.271},{"s":5,"w":460,"a":0.19},{"s":5,"w":480,"a":0.141},{"s":5,"w":500,"a":0.115},{"s":5,"w":520,"a":0.104},{"s":5,"w":540,"a":0.098},{"s":5,"w":560,"a":0.1},{"s":5,"w":580,"a":0.115},{"s":5,"w":600,"a":0.158},{"s":5,"w":620,"a":0.209},{"s":5,"w":635,"a":0.25},{"s":5,"w":650,"a":0.237},{"s":5,"w":660,"a":0.229},{"s":5,"w":680,"a":0.197},{"s":5,"w":700,"a":0.158},{"s":5,"w":720,"a":0.121},{"s":5,"w":740,"a":0.092},{"s":5,"w":760,"a":0.071},{"s":5,"w":780,"a":0.06},{"s":5,"w":800,"a":0.043},
{"s":6,"w":300,"a":0.585},{"s":6,"w":310,"a":0.565},{"s":6,"w":320,"a":0.59},{"s":6,"w":340,"a":0.7},{"s":6,"w":350,"a":0.77},{"s":6,"w":360,"a":0.8},{"s":6,"w":370,"a":0.79},{"s":6,"w":380,"a":0.72},{"s":6,"w":400,"a":0.56},{"s":6,"w":420,"a":0.4},{"s":6,"w":440,"a":0.27},{"s":6,"w":460,"a":0.19},{"s":6,"w":480,"a":0.14},{"s":6,"w":500,"a":0.115},{"s":6,"w":520,"a":0.104},{"s":6,"w":540,"a":0.098},{"s":6,"w":560,"a":0.1},{"s":6,"w":580,"a":0.115},{"s":6,"w":600,"a":0.155},{"s":6,"w":620,"a":0.2},{"s":6,"w":635,"a":0.237},{"s":6,"w":650,"a":0.225},{"s":6,"w":660,"a":0.219},{"s":6,"w":680,"a":0.191},{"s":6,"w":700,"a":0.154},{"s":6,"w":720,"a":0.117},{"s":6,"w":740,"a":0.09},{"s":6,"w":760,"a":0.07},{"s":6,"w":780,"a":0.06},{"s":6,"w":800,"a":0.043}
],
"f":[
{"s":1,"w":300,"a":0.57},{"s":1,"w":310,"a":0.556},{"s":1,"w":320,"a":0.583},{"s":1,"w":340,"a":0.722},{"s":1,"w":350,"a":0.815},{"s":1,"w":358,"a":0.856},{"s":1,"w":370,"a":0.815},{"s":1,"w":380,"a":0.704},{"s":1,"w":400,"a":0.537},{"s":1,"w":420,"a":0.389},{"s":1,"w":440,"a":0.278},{"s":1,"w":460,"a":0.204},{"s":1,"w":480,"a":0.148},{"s":1,"w":500,"a":0.12},{"s":1,"w":520,"a":0.102},{"s":1,"w":540,"a":0.093},{"s":1,"w":560,"a":0.087},{"s":1,"w":575,"a":0.089},{"s":1,"w":590,"a":0.13},{"s":1,"w":610,"a":0.222},{"s":1,"w":625,"a":0.287},{"s":1,"w":635,"a":0.319},{"s":1,"w":650,"a":0.296},{"s":1,"w":660,"a":0.281},{"s":1,"w":680,"a":0.241},{"s":1,"w":700,"a":0.204},{"s":1,"w":720,"a":0.157},{"s":1,"w":740,"a":0.111},{"s":1,"w":760,"a":0.083},{"s":1,"w":780,"a":0.065},{"s":1,"w":800,"a":0.046},
{"s":2,"w":300,"a":0.57},{"s":2,"w":310,"a":0.556},{"s":2,"w":320,"a":0.583},{"s":2,"w":340,"a":0.71},{"s":2,"w":350,"a":0.795},{"s":2,"w":358,"a":0.835},{"s":2,"w":370,"a":0.8},{"s":2,"w":380,"a":0.69},{"s":2,"w":400,"a":0.53},{"s":2,"w":420,"a":0.389},{"s":2,"w":440,"a":0.279},{"s":2,"w":460,"a":0.205},{"s":2,"w":480,"a":0.149},{"s":2,"w":500,"a":0.121},{"s":2,"w":520,"a":0.102},{"s":2,"w":540,"a":0.093},{"s":2,"w":560,"a":0.087},{"s":2,"w":575,"a":0.089},{"s":2,"w":590,"a":0.127},{"s":2,"w":610,"a":0.212},{"s":2,"w":625,"a":0.269},{"s":2,"w":635,"a":0.297},{"s":2,"w":650,"a":0.277},{"s":2,"w":660,"a":0.264},{"s":2,"w":680,"a":0.228},{"s":2,"w":700,"a":0.194},{"s":2,"w":720,"a":0.151},{"s":2,"w":740,"a":0.109},{"s":2,"w":760,"a":0.083},{"s":2,"w":780,"a":0.065},{"s":2,"w":800,"a":0.046},
{"s":3,"w":300,"a":0.57},{"s":3,"w":310,"a":0.556},{"s":3,"w":320,"a":0.583},{"s":3,"w":340,"a":0.69},{"s":3,"w":350,"a":0.775},{"s":3,"w":358,"a":0.813},{"s":3,"w":370,"a":0.778},{"s":3,"w":380,"a":0.68},{"s":3,"w":400,"a":0.53},{"s":3,"w":420,"a":0.389},{"s":3,"w":440,"a":0.281},{"s":3,"w":460,"a":0.207},{"s":3,"w":480,"a":0.151},{"s":3,"w":500,"a":0.122},{"s":3,"w":520,"a":0.103},{"s":3,"w":540,"a":0.094},{"s":3,"w":560,"a":0.088},{"s":3,"w":575,"a":0.09},{"s":3,"w":590,"a":0.124},{"s":3,"w":610,"a":0.203},{"s":3,"w":625,"a":0.25},{"s":3,"w":635,"a":0.274},{"s":3,"w":650,"a":0.258},{"s":3,"w":660,"a":0.247},{"s":3,"w":680,"a":0.214},{"s":3,"w":700,"a":0.184},{"s":3,"w":720,"a":0.144},{"s":3,"w":740,"a":0.107},{"s":3,"w":760,"a":0.083},{"s":3,"w":780,"a":0.065},{"s":3,"w":800,"a":0.046},
{"s":4,"w":300,"a":0.57},{"s":4,"w":310,"a":0.556},{"s":4,"w":320,"a":0.583},{"s":4,"w":340,"a":0.676},{"s":4,"w":350,"a":0.754},{"s":4,"w":358,"a":0.792},{"s":4,"w":370,"a":0.759},{"s":4,"w":380,"a":0.668},{"s":4,"w":400,"a":0.527},{"s":4,"w":420,"a":0.389},{"s":4,"w":440,"a":0.283},{"s":4,"w":460,"a":0.209},{"s":4,"w":480,"a":0.153},{"s":4,"w":500,"a":0.124},{"s":4,"w":520,"a":0.103},{"s":4,"w":540,"a":0.094},{"s":4,"w":560,"a":0.088},{"s":4,"w":575,"a":0.09},{"s":4,"w":590,"a":0.121},{"s":4,"w":610,"a":0.193},{"s":4,"w":625,"a":0.232},{"s":4,"w":635,"a":0.252},{"s":4,"w":650,"a":0.238},{"s":4,"w":660,"a":0.229},{"s":4,"w":680,"a":0.201},{"s":4,"w":700,"a":0.173},{"s":4,"w":720,"a":0.138},{"s":4,"w":740,"a":0.104},{"s":4,"w":760,"a":0.082},{"s":4,"w":780,"a":0.065},{"s":4,"w":800,"a":0.046},
{"s":5,"w":300,"a":0.57},{"s":5,"w":310,"a":0.556},{"s":5,"w":320,"a":0.583},{"s":5,"w":340,"a":0.661},{"s":5,"w":350,"a":0.734},{"s":5,"w":358,"a":0.77},{"s":5,"w":370,"a":0.74},{"s":5,"w":380,"a":0.657},{"s":5,"w":400,"a":0.524},{"s":5,"w":420,"a":0.389},{"s":5,"w":440,"a":0.284},{"s":5,"w":460,"a":0.21},{"s":5,"w":480,"a":0.154},{"s":5,"w":500,"a":0.124},{"s":5,"w":520,"a":0.104},{"s":5,"w":540,"a":0.095},{"s":5,"w":560,"a":0.089},{"s":5,"w":575,"a":0.09},{"s":5,"w":590,"a":0.119},{"s":5,"w":610,"a":0.183},{"s":5,"w":625,"a":0.214},{"s":5,"w":635,"a":0.23},{"s":5,"w":650,"a":0.219},{"s":5,"w":660,"a":0.212},{"s":5,"w":680,"a":0.188},{"s":5,"w":700,"a":0.163},{"s":5,"w":720,"a":0.132},{"s":5,"w":740,"a":0.102},{"s":5,"w":760,"a":0.082},{"s":5,"w":780,"a":0.065},{"s":5,"w":800,"a":0.046},
{"s":6,"w":300,"a":0.57},{"s":6,"w":310,"a":0.556},{"s":6,"w":320,"a":0.583},{"s":6,"w":340,"a":0.646},{"s":6,"w":350,"a":0.714},{"s":6,"w":358,"a":0.749},{"s":6,"w":370,"a":0.721},{"s":6,"w":380,"a":0.645},{"s":6,"w":400,"a":0.521},{"s":6,"w":420,"a":0.389},{"s":6,"w":440,"a":0.285},{"s":6,"w":460,"a":0.211},{"s":6,"w":480,"a":0.155},{"s":6,"w":500,"a":0.125},{"s":6,"w":520,"a":0.104},{"s":6,"w":540,"a":0.095},{"s":6,"w":560,"a":0.089},{"s":6,"w":575,"a":0.091},{"s":6,"w":590,"a":0.116},{"s":6,"w":610,"a":0.173},{"s":6,"w":625,"a":0.196},{"s":6,"w":635,"a":0.207},{"s":6,"w":650,"a":0.2},{"s":6,"w":660,"a":0.195},{"s":6,"w":680,"a":0.174},{"s":6,"w":700,"a":0.153},{"s":6,"w":720,"a":0.126},{"s":6,"w":740,"a":0.1},{"s":6,"w":760,"a":0.081},{"s":6,"w":780,"a":0.065},{"s":6,"w":800,"a":0.046},
{"s":7,"w":300,"a":0.57},{"s":7,"w":310,"a":0.556},{"s":7,"w":320,"a":0.583},{"s":7,"w":340,"a":0.632},{"s":7,"w":350,"a":0.696},{"s":7,"w":358,"a":0.73},{"s":7,"w":370,"a":0.705},{"s":7,"w":380,"a":0.634},{"s":7,"w":400,"a":0.518},{"s":7,"w":420,"a":0.389},{"s":7,"w":440,"a":0.286},{"s":7,"w":460,"a":0.212},{"s":7,"w":480,"a":0.156},{"s":7,"w":500,"a":0.126},{"s":7,"w":520,"a":0.105},{"s":7,"w":540,"a":0.096},{"s":7,"w":560,"a":0.09},{"s":7,"w":575,"a":0.091},{"s":7,"w":590,"a":0.113},{"s":7,"w":610,"a":0.165},{"s":7,"w":625,"a":0.18},{"s":7,"w":635,"a":0.188},{"s":7,"w":650,"a":0.183},{"s":7,"w":660,"a":0.18},{"s":7,"w":680,"a":0.163},{"s":7,"w":700,"a":0.144},{"s":7,"w":720,"a":0.12},{"s":7,"w":740,"a":0.098},{"s":7,"w":760,"a":0.08},{"s":7,"w":780,"a":0.065},{"s":7,"w":800,"a":0.046},
{"s":8,"w":300,"a":0.57},{"s":8,"w":310,"a":0.556},{"s":8,"w":320,"a":0.583},{"s":8,"w":340,"a":0.62},{"s":8,"w":350,"a":0.68},{"s":8,"w":358,"a":0.713},{"s":8,"w":370,"a":0.69},{"s":8,"w":380,"a":0.625},{"s":8,"w":400,"a":0.515},{"s":8,"w":420,"a":0.389},{"s":8,"w":440,"a":0.287},{"s":8,"w":460,"a":0.213},{"s":8,"w":480,"a":0.157},{"s":8,"w":500,"a":0.126},{"s":8,"w":520,"a":0.105},{"s":8,"w":540,"a":0.096},{"s":8,"w":560,"a":0.09},{"s":8,"w":575,"a":0.091},{"s":8,"w":590,"a":0.111},{"s":8,"w":610,"a":0.157},{"s":8,"w":625,"a":0.165},{"s":8,"w":635,"a":0.17},{"s":8,"w":650,"a":0.168},{"s":8,"w":660,"a":0.166},{"s":8,"w":680,"a":0.152},{"s":8,"w":700,"a":0.136},{"s":8,"w":720,"a":0.115},{"s":8,"w":740,"a":0.096},{"s":8,"w":760,"a":0.08},{"s":8,"w":780,"a":0.065},{"s":8,"w":800,"a":0.046}
],
"arr":[
{"p":"b","w":363,"a":0.97,"a2":0.88,"d":"down"},{"p":"b","w":462,"a":0.385,"a2":0.48,"d":"up"},{"p":"b","w":661,"a":0.407,"a2":0.31,"d":"down"},{"p":"b","w":710,"a":0.357,"a2":0.26,"d":"down"},
{"p":"c","w":363,"a":0.99,"a2":0.9,"d":"down"},{"p":"c","w":529,"a":0.283,"a2":0.385,"d":"up"},{"p":"c","w":641,"a":0.478,"a2":0.4,"d":"down"},{"p":"c","w":709.5,"a":0.77,"a2":0.67,"d":"down"},
{"p":"d","w":367,"a":0.74,"a2":0.633,"d":"down"},{"p":"d","w":465,"a":0.33,"a2":0.435,"d":"up"},{"p":"d","w":639,"a":0.36,"a2":0.263,"d":"down"},{"p":"d","w":709,"a":1.0,"a2":0.89,"d":"down"},
{"p":"e","w":358.5,"a":0.974,"a2":0.857,"d":"down"},{"p":"e","w":550,"a":0.126,"a2":0.24,"d":"up"},{"p":"e","w":636,"a":0.437,"a2":0.326,"d":"down"},{"p":"e","w":661,"a":0.376,"a2":0.293,"d":"down"},
{"p":"f","w":355.5,"a":0.97,"a2":0.87,"d":"down"},{"p":"f","w":505,"a":0.13,"a2":0.23,"d":"up"},{"p":"f","w":637,"a":0.45,"a2":0.343,"d":"down"},{"p":"f","w":661.5,"a":0.39,"a2":0.296,"d":"down"}
],
"pl":[
{"p":"a","w":444,"a":0.891,"t":"(a)"},{"p":"b","w":444,"a":0.893,"t":"(b)"},{"p":"c","w":429,"a":0.898,"t":"(c)"},{"p":"d","w":429,"a":0.898,"t":"(d)"},{"p":"e","w":429.6,"a":0.898,"t":"(e)"},{"p":"f","w":429.6,"a":0.898,"t":"(f)"}
],
"nt":[
{"p":"a","w":607.6,"a":0.86,"t":"H₂-TIPc: 0.85 V"},{"p":"b","w":607.6,"a":0.862,"t":"H₂-TIPc: 1.25 V"},{"p":"c","w":596,"a":0.857,"t":"Zn-TIPc: 0.77V"},{"p":"d","w":513,"a":0.861,"t":"Zn-TIPc: 1.13 V"},{"p":"e","w":587,"a":0.857,"t":"Cu-TIPc: 0.77V"},{"p":"f","w":589,"a":0.861,"t":"Cu-TIPc: 1.15 V"}
]
},
"concat":[
{"width":224,"height":180,
"encoding":{"x":{"field":"w","type":"quantitative","scale":{"domain":[300,800],"nice":false,"zero":false},"axis":{"values":[315,360,405,450,495,540,585,630,675,720,765],"labels":false,"title":null}},
"y":{"field":"a","type":"quantitative","scale":{"domain":[0,1],"nice":false,"zero":false},"axis":{"title":"Absorbance (arb. units)","labels":false,"ticks":false,"titleFontSize":19,"titlePadding":9,"titleY":161.5}}},
"layer":[
{"data":{"name":"a"},"mark":{"type":"line","clip":true},"encoding":{"color":{"field":"s","type":"nominal","legend":null,"scale":{"domain":[1,2,3],"range":["#d030c0","#30a040","#4a6a9a"]}}}},
{"data":{"name":"pl"},"transform":[{"filter":"datum.p=='a'"}],"mark":{"type":"text","fontSize":14,"align":"center","baseline":"middle"},"encoding":{"text":{"field":"t"}}},
{"data":{"name":"nt"},"transform":[{"filter":"datum.p=='a'"}],"mark":{"type":"text","fontSize":10.5,"align":"left","baseline":"middle"},"encoding":{"text":{"field":"t"}}}
]},
{"width":224,"height":180,
"encoding":{"x":{"field":"w","type":"quantitative","scale":{"domain":[300,800],"nice":false,"zero":false},"axis":{"values":[315,360,405,450,495,540,585,630,675,720,765],"labels":false,"title":null}},
"y":{"field":"a","type":"quantitative","scale":{"domain":[0,1],"nice":false,"zero":false},"axis":null}},
"layer":[
{"data":{"name":"c"},"mark":{"type":"line","clip":true},"encoding":{"color":{"field":"s","type":"nominal","legend":null,"scale":{"domain":[1,2,3,4,5,6,7,8,9],"range":["#10dd30","#1a1aa0","#00d0d0","#e020e0","#e8e000","#808000","#e00000","#101010","#ff8c00"]}}}},
{"data":{"name":"arr"},"transform":[{"filter":"datum.p=='c'"}],"mark":{"type":"rule","strokeWidth":1.5,"color":"#000000"},"encoding":{"y2":{"field":"a2"}}},
{"data":{"name":"arr"},"transform":[{"filter":"datum.p=='c'"}],"mark":{"type":"point","filled":true,"color":"#000000","size":49,"opacity":1,"strokeWidth":0},"encoding":{"y":{"field":"a2","type":"quantitative","scale":{"domain":[0,1]},"axis":null},"shape":{"field":"d","type":"nominal","legend":null,"scale":{"domain":["down","up"],"range":["M-0.7,-2L0.7,-2L0,0Z","M-0.7,2L0.7,2L0,0Z"]}}}},
{"data":{"name":"pl"},"transform":[{"filter":"datum.p=='c'"}],"mark":{"type":"text","fontSize":14,"align":"center","baseline":"middle"},"encoding":{"text":{"field":"t"}}},
{"data":{"name":"nt"},"transform":[{"filter":"datum.p=='c'"}],"mark":{"type":"text","fontSize":10.5,"align":"left","baseline":"middle"},"encoding":{"text":{"field":"t"}}}
]},
{"width":224,"height":180,
"encoding":{"x":{"field":"w","type":"quantitative","scale":{"domain":[300,800],"nice":false,"zero":false},"axis":{"values":[315,360,405,450,495,540,585,630,675,720,765],"labels":false,"title":null}},
"y":{"field":"a","type":"quantitative","scale":{"domain":[0,1],"nice":false,"zero":false},"axis":null}},
"layer":[
{"data":{"name":"e"},"mark":{"type":"line","clip":true},"encoding":{"color":{"field":"s","type":"nominal","legend":null,"scale":{"domain":[1,2,3,4,5,6],"range":["#00c0c0","#e020e0","#2030c0","#000000","#707000","#ff0000"]}}}},
{"data":{"name":"arr"},"transform":[{"filter":"datum.p=='e'"}],"mark":{"type":"rule","strokeWidth":1.5,"color":"#000000"},"encoding":{"y2":{"field":"a2"}}},
{"data":{"name":"arr"},"transform":[{"filter":"datum.p=='e'"}],"mark":{"type":"point","filled":true,"color":"#000000","size":49,"opacity":1,"strokeWidth":0},"encoding":{"y":{"field":"a2","type":"quantitative","scale":{"domain":[0,1]},"axis":null},"shape":{"field":"d","type":"nominal","legend":null,"scale":{"domain":["down","up"],"range":["M-0.7,-2L0.7,-2L0,0Z","M-0.7,2L0.7,2L0,0Z"]}}}},
{"data":{"name":"pl"},"transform":[{"filter":"datum.p=='e'"}],"mark":{"type":"text","fontSize":14,"align":"center","baseline":"middle"},"encoding":{"text":{"field":"t"}}},
{"data":{"name":"nt"},"transform":[{"filter":"datum.p=='e'"}],"mark":{"type":"text","fontSize":10.5,"align":"left","baseline":"middle"},"encoding":{"text":{"field":"t"}}}
]},
{"width":224,"height":181,
"encoding":{"x":{"field":"w","type":"quantitative","scale":{"domain":[300,800],"nice":false,"zero":false},"axis":{"values":[315,360,405,450,495,540,585,630,675,720,765],"labelExpr":"datum.value % 90 === 0 ? datum.label : ''","title":null}},
"y":{"field":"a","type":"quantitative","scale":{"domain":[0,1],"nice":false,"zero":false},"axis":{"title":null,"labels":false,"ticks":false}}},
"layer":[
{"data":{"name":"b"},"mark":{"type":"line","clip":true},"encoding":{"color":{"field":"s","type":"nominal","legend":null,"scale":{"domain":[1,2,3,4,5,6,7,8],"range":["#000000","#ff0000","#1010e0","#8010a0","#008000","#009090","#808000","#9a9a88"]}}}},
{"data":{"name":"arr"},"transform":[{"filter":"datum.p=='b'"}],"mark":{"type":"rule","strokeWidth":1.5,"color":"#000000"},"encoding":{"y2":{"field":"a2"}}},
{"data":{"name":"arr"},"transform":[{"filter":"datum.p=='b'"}],"mark":{"type":"point","filled":true,"color":"#000000","size":49,"opacity":1,"strokeWidth":0},"encoding":{"y":{"field":"a2","type":"quantitative","scale":{"domain":[0,1]},"axis":null},"shape":{"field":"d","type":"nominal","legend":null,"scale":{"domain":["down","up"],"range":["M-0.7,-2L0.7,-2L0,0Z","M-0.7,2L0.7,2L0,0Z"]}}}},
{"data":{"name":"pl"},"transform":[{"filter":"datum.p=='b'"}],"mark":{"type":"text","fontSize":14,"align":"center","baseline":"middle"},"encoding":{"text":{"field":"t"}}},
{"data":{"name":"nt"},"transform":[{"filter":"datum.p=='b'"}],"mark":{"type":"text","fontSize":10.5,"align":"left","baseline":"middle"},"encoding":{"text":{"field":"t"}}}
]},
{"width":224,"height":181,
"encoding":{"x":{"field":"w","type":"quantitative","scale":{"domain":[300,800],"nice":false,"zero":false},"axis":{"values":[315,360,405,450,495,540,585,630,675,720,765],"labelExpr":"datum.value % 90 === 0 ? datum.label : ''","title":"Wavelength (nm)","titlePadding":12}},
"y":{"field":"a","type":"quantitative","scale":{"domain":[0,1],"nice":false,"zero":false},"axis":null}},
"layer":[
{"data":{"name":"d"},"mark":{"type":"line","clip":true},"encoding":{"color":{"field":"s","type":"nominal","legend":null,"scale":{"domain":[1,2,3,4,5,6,7,8,9,10,11],"range":["#000000","#ff0000","#00c000","#0000e0","#00c8c8","#ff00ff","#d8d800","#808000","#000080","#ff8000","#80e8f0"]}}}},
{"data":{"name":"arr"},"transform":[{"filter":"datum.p=='d'"}],"mark":{"type":"rule","strokeWidth":1.5,"color":"#000000"},"encoding":{"y2":{"field":"a2"}}},
{"data":{"name":"arr"},"transform":[{"filter":"datum.p=='d'"}],"mark":{"type":"point","filled":true,"color":"#000000","size":49,"opacity":1,"strokeWidth":0},"encoding":{"y":{"field":"a2","type":"quantitative","scale":{"domain":[0,1]},"axis":null},"shape":{"field":"d","type":"nominal","legend":null,"scale":{"domain":["down","up"],"range":["M-0.7,-2L0.7,-2L0,0Z","M-0.7,2L0.7,2L0,0Z"]}}}},
{"data":{"name":"pl"},"transform":[{"filter":"datum.p=='d'"}],"mark":{"type":"text","fontSize":14,"align":"center","baseline":"middle"},"encoding":{"text":{"field":"t"}}},
{"data":{"name":"nt"},"transform":[{"filter":"datum.p=='d'"}],"mark":{"type":"text","fontSize":10.5,"align":"left","baseline":"middle"},"encoding":{"text":{"field":"t"}}}
]},
{"width":224,"height":181,
"encoding":{"x":{"field":"w","type":"quantitative","scale":{"domain":[300,800],"nice":false,"zero":false},"axis":{"values":[315,360,405,450,495,540,585,630,675,720,765],"labelExpr":"datum.value % 90 === 0 ? datum.label : ''","title":null}},
"y":{"field":"a","type":"quantitative","scale":{"domain":[0,1],"nice":false,"zero":false},"axis":null}},
"layer":[
{"data":{"name":"f"},"mark":{"type":"line","clip":true},"encoding":{"color":{"field":"s","type":"nominal","legend":null,"scale":{"domain":[1,2,3,4,5,6,7,8],"range":["#000000","#ff0000","#00a000","#0000d0","#008080","#e000e0","#e0e000","#f090e8"]}}}},
{"data":{"name":"arr"},"transform":[{"filter":"datum.p=='f'"}],"mark":{"type":"rule","strokeWidth":1.5,"color":"#000000"},"encoding":{"y2":{"field":"a2"}}},
{"data":{"name":"arr"},"transform":[{"filter":"datum.p=='f'"}],"mark":{"type":"point","filled":true,"color":"#000000","size":49,"opacity":1,"strokeWidth":0},"encoding":{"y":{"field":"a2","type":"quantitative","scale":{"domain":[0,1]},"axis":null},"shape":{"field":"d","type":"nominal","legend":null,"scale":{"domain":["down","up"],"range":["M-0.7,-2L0.7,-2L0,0Z","M-0.7,2L0.7,2L0,0Z"]}}}},
{"data":{"name":"pl"},"transform":[{"filter":"datum.p=='f'"}],"mark":{"type":"text","fontSize":14,"align":"center","baseline":"middle"},"encoding":{"text":{"field":"t"}}},
{"data":{"name":"nt"},"transform":[{"filter":"datum.p=='f'"}],"mark":{"type":"text","fontSize":10.5,"align":"left","baseline":"middle"},"encoding":{"text":{"field":"t"}}}
]}
]
}
